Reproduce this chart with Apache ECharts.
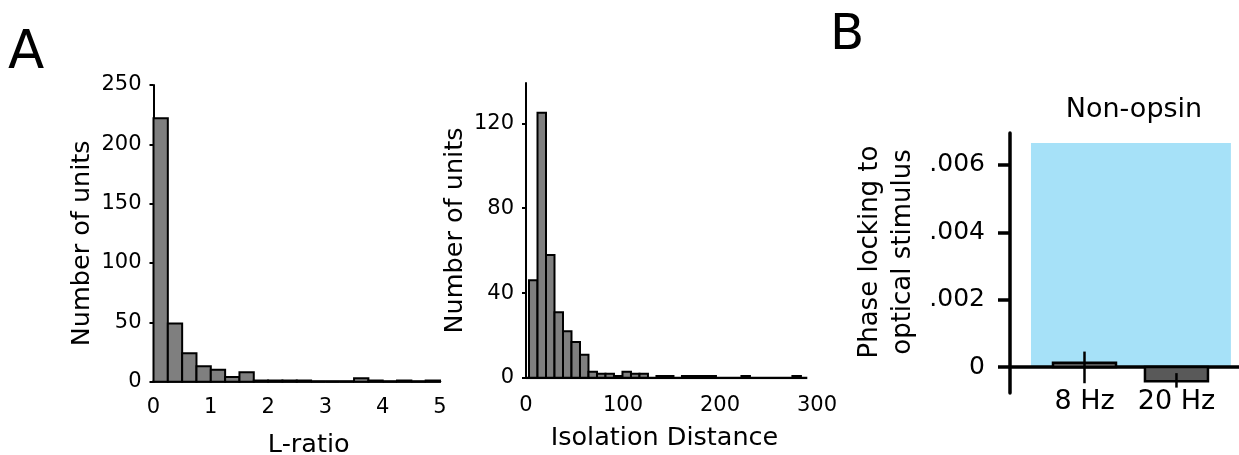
<!DOCTYPE html>
<html style="height: 100%">
  <head>
    <meta charset="UTF-8" />
    <title>Unit quality and phase locking</title>
    <script src="https://cdn.jsdelivr.net/npm/echarts@6/dist/echarts.min.js"></script>
  </head>
  <body style="height: 100%; margin: 0; background-color: #fff">
    <div id="main" style="width: 1239px; height: 455px; margin: 0"></div>
    <script type="text/javascript">
      // --- data ---
      // A, left: L-ratio histogram (bins of 0.25 from 0)
      var lrBinStart = 0;
      var lrBinWidth = 0.25;
      var lrCounts = [222, 49, 24, 13, 10, 4, 8, 1, 1, 1, 1, 0, 0, 0, 3, 1, 0, 1, 0, 1];
      var lrTicks = [0, 1, 2, 3, 4, 5];

      // A, right: isolation distance histogram
      var isoBinStart = 3.1;
      var isoBinWidth = 8.76;
      var isoCounts = [46, 125, 58, 31, 22, 17, 11, 3, 2, 2, 1, 3, 2, 2, 0, 1,
                       1, 0, 1, 1, 1, 1, 0, 0, 0, 1, 0, 0, 0, 0, 0, 1];
      var isoYTicks = [0, 40, 80, 120];
      var isoXTicks = [0, 100, 200, 300];

      // B: phase locking, non-opsin units
      var freqLabels = ["8 Hz", "20 Hz"];
      var phaseMeans = [0.00013, -0.00042];
      var phaseErrLow = [-0.00048, -0.00061];
      var phaseErrHigh = [0.00046, -0.00018];
      var phaseYTicks = [0, 0.002, 0.004, 0.006];
      var shadeTop = 0.00665;

      var FONT = '"DejaVu Sans", sans-serif';
      var chart = echarts.init(document.getElementById("main"));

      function histItem(binWidth) {
        return function (params, api) {
          var x0 = api.value(0);
          var v = api.value(1);
          var p0 = api.coord([x0, v]);
          var p1 = api.coord([x0 + binWidth, 0]);
          return {
            type: "rect",
            shape: { x: p0[0], y: p0[1], width: p1[0] - p0[0], height: p1[1] - p0[1] },
            style: { fill: "#7f7f7f", stroke: "#000", lineWidth: 2 },
          };
        };
      }

      var lrData = lrCounts.map(function (c, i) {
        return [lrBinStart + i * lrBinWidth, c];
      });
      var isoData = isoCounts.map(function (c, i) {
        return [isoBinStart + i * isoBinWidth, c];
      });
      var phaseData = phaseMeans.map(function (m, i) {
        return [i + 1, m, phaseErrLow[i], phaseErrHigh[i]];
      });

      var barW = 0.685; // in category-position units
      var tickLbl = { color: "#000", fontFamily: FONT, fontSize: 21 };
      var nameTxt = { color: "#000", fontFamily: FONT, fontSize: 25.5 };

      var option = {
        animation: false,
        graphic: [
          { type: "text", x: 8, y: 54, style: { text: "A", font: '53px ' + FONT, fill: "#000", verticalAlign: "middle" } },
          { type: "text", x: 830, y: 36, style: { text: "B", font: '50px ' + FONT, fill: "#000", verticalAlign: "middle" } },
          { type: "text", x: 1134, y: 110, style: { text: "Non-opsin", font: '27px ' + FONT, fill: "#000", align: "center", verticalAlign: "middle" } },
        ],
        grid: [
          { left: 153.5, top: 85, width: 286.5, height: 296.7, outerBoundsMode: "none" },
          { left: 526, top: 83, width: 291, height: 295, outerBoundsMode: "none" },
          { left: 1010, top: 133, width: 229, height: 260, outerBoundsMode: "none" },
        ],
        xAxis: [
          {
            gridIndex: 0, type: "value", min: 0, max: 5, interval: 1,
            name: "L-ratio", nameLocation: "middle", nameGap: 51,
            nameTextStyle: Object.assign({ padding: [0, 0, 0, 24] }, nameTxt),
            axisLine: { lineStyle: { color: "#000", width: 2.5 } },
            axisTick: { show: false }, splitLine: { show: false },
            axisLabel: Object.assign({ margin: 15 }, tickLbl),
          },
          {
            gridIndex: 1, type: "value", min: 0, max: 300, interval: 100,
            name: "Isolation Distance", nameLocation: "middle", nameGap: 47,
            nameTextStyle: Object.assign({ padding: [0, 14, 0, 0] }, nameTxt),
            axisLine: { show: false },
            axisTick: { show: false }, splitLine: { show: false },
            axisLabel: Object.assign({ margin: 17 }, tickLbl),
          },
          {
            gridIndex: 2, type: "value", min: 0.19, max: 2.68,
            axisLine: { onZero: true, lineStyle: { color: "#000", width: 3.5 } },
            axisTick: { show: false }, splitLine: { show: false },
            axisLabel: {
              customValues: [1, 2], margin: -5, color: "#000", fontFamily: FONT, fontSize: 27,
              formatter: function (v) { return freqLabels[Math.round(v) - 1]; },
            },
          },
        ],
        yAxis: [
          {
            gridIndex: 0, type: "value", min: 0, max: 250, interval: 50,
            name: "Number of units", nameLocation: "middle", nameGap: 58,
            nameTextStyle: Object.assign({ padding: [0, 20, 0, 0] }, nameTxt),
            axisLine: { show: true, lineStyle: { color: "#000", width: 2 } },
            axisTick: { show: true, length: 4, lineStyle: { color: "#000", width: 2 } },
            splitLine: { show: false },
            axisLabel: Object.assign({ margin: 12 }, tickLbl),
          },
          {
            gridIndex: 1, type: "value", min: 0, max: 139,
            name: "Number of units", nameLocation: "middle", nameGap: 58,
            nameTextStyle: nameTxt,
            axisLine: { show: true, lineStyle: { color: "#000", width: 2 } },
            axisTick: { show: true, length: 4, customValues: isoYTicks, lineStyle: { color: "#000", width: 2 } },
            splitLine: { show: false },
            axisLabel: Object.assign({ margin: 12, customValues: isoYTicks }, tickLbl),
          },
          {
            gridIndex: 2, type: "value", min: -0.00077, max: 0.00695,
            name: "Phase locking to\noptical stimulus", nameLocation: "middle", nameGap: 90,
            nameTextStyle: { color: "#000", fontFamily: FONT, fontSize: 26, lineHeight: 33, padding: [0, 0, 0, 22] },
            axisLine: { show: true, onZero: false, lineStyle: { color: "#000", width: 3.5 } },
            axisTick: { show: true, length: 12, customValues: phaseYTicks, lineStyle: { color: "#000", width: 3.5 } },
            splitLine: { show: false },
            axisLabel: {
              customValues: phaseYTicks, margin: 25, color: "#000", fontFamily: FONT, fontSize: 25,
              formatter: function (v) { return v === 0 ? "0" : v.toFixed(3).replace(/^0/, ""); },
            },
          },
        ],
        series: [
          {
            name: "L-ratio", type: "custom", xAxisIndex: 0, yAxisIndex: 0,
            renderItem: histItem(lrBinWidth), data: lrData,
          },
          {
            name: "Isolation Distance", type: "custom", xAxisIndex: 1, yAxisIndex: 1,
            renderItem: histItem(isoBinWidth), data: isoData,
          },
          {
            name: "iso baseline", type: "line", xAxisIndex: 1, yAxisIndex: 1,
            data: [[0, 0], [290, 0]], symbol: "none", z: 5,
            lineStyle: { color: "#000", width: 2.5 },
          },
          {
            name: "stimulus", type: "custom", xAxisIndex: 2, yAxisIndex: 2, z: -1,
            renderItem: function (params, api) {
              var p0 = api.coord([0.418, api.value(0)]);
              var p1 = api.coord([2.592, 0]);
              return {
                type: "rect",
                shape: { x: p0[0], y: p0[1], width: p1[0] - p0[0], height: p1[1] - p0[1] },
                style: { fill: "#a6e1f8" },
              };
            },
            data: [[shadeTop]],
            encode: { y: 0 },
          },
          {
            name: "Phase locking", type: "custom", xAxisIndex: 2, yAxisIndex: 2, z: 3,
            renderItem: function (params, api) {
              var x = api.value(0);
              var a = api.coord([x - barW / 2, api.value(1)]);
              var b = api.coord([x + barW / 2, 0]);
              var lo = api.coord([x, api.value(2)]);
              var hi = api.coord([x, api.value(3)]);
              return {
                type: "group",
                children: [
                  {
                    type: "rect",
                    shape: {
                      x: a[0], y: Math.min(a[1], b[1]),
                      width: b[0] - a[0], height: Math.abs(b[1] - a[1]),
                    },
                    style: { fill: "#595959", stroke: "#000", lineWidth: 2.5 },
                  },
                  {
                    type: "line",
                    shape: { x1: lo[0], y1: lo[1], x2: hi[0], y2: hi[1] },
                    style: { stroke: "#000", lineWidth: 2.5 },
                  },
                ],
              };
            },
            data: phaseData,
          },
        ],
      };

      chart.setOption(option);
    </script>
  </body>
</html>
